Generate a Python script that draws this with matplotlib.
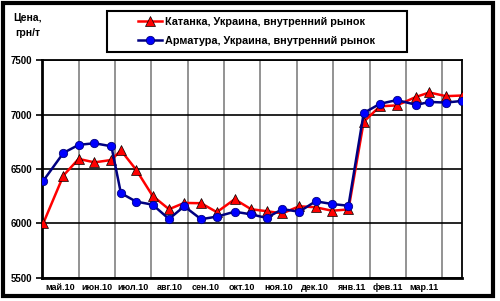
import calendar
import matplotlib
matplotlib.use('Agg')
import matplotlib.pyplot as plt
from matplotlib.patches import Rectangle

# dates of observations and prices, UAH/t
dates = ['2010-05-02', '2010-05-19', '2010-06-01', '2010-06-14', '2010-06-28',
         '2010-07-06', '2010-07-19', '2010-08-02', '2010-08-16', '2010-08-29',
         '2010-09-12', '2010-09-25', '2010-10-10', '2010-10-24', '2010-11-06',
         '2010-11-19', '2010-12-03', '2010-12-17', '2010-12-31', '2011-01-14',
         '2011-01-27', '2011-02-09', '2011-02-22', '2011-03-10', '2011-03-21',
         '2011-04-04', '2011-04-17']
katanka = [6005, 6440, 6593, 6561, 6583, 6672, 6493, 6253, 6130, 6188,
           6185, 6103, 6222, 6130, 6112, 6092, 6157, 6148, 6116, 6128,
           6935, 7077, 7085, 7165, 7204, 7170, 7176]
armatura = [6394, 6648, 6722, 6737, 6709, 6278, 6200, 6172, 6040, 6157,
            6038, 6062, 6107, 6083, 6050, 6131, 6107, 6203, 6178, 6162,
            7015, 7100, 7134, 7090, 7117, 7111, 7126]
month_labels = ['май.10', 'июн.10', 'июл.10', 'авг.10', 'сен.10', 'окт.10',
                'ноя.10', 'дек.10', 'янв.11', 'фев.11', 'мар.11']
label_katanka = 'Катанка, Украина, внутренний рынок'
label_armatura = 'Арматура, Украина, внутренний рынок'


def month_pos(s):
    # months since 1 May 2010, every month the same width
    y, m, d = map(int, s.split('-'))
    return (y - 2010) * 12 + (m - 5) + (d - 1) / calendar.monthrange(y, m)[1]


x = [month_pos(d) for d in dates]

plt.rcParams['font.family'] = ['Liberation Sans', 'DejaVu Sans']
plt.rcParams['font.weight'] = 'bold'

fig = plt.figure(figsize=(5, 3.01), dpi=100)
ax = fig.add_axes([42.3 / 500, 1 - 277.7 / 301, 419.4 / 500, 217.4 / 301])

l1, = ax.plot(x, katanka, color='#ff0000', lw=1.8, marker='^', ms=6.5,
              mfc='#ff0000', mec='black', mew=0.5, label=label_katanka, zorder=3)
l2, = ax.plot(x, armatura, color='#000080', lw=1.8, marker='o', ms=6,
              mfc='#0000ff', mec='#000080', mew=0.6, label=label_armatura, zorder=4)

ax.set_xlim(0, x[-1])
ax.set_ylim(5500, 7500)
ax.set_yticks([5500, 6000, 6500, 7000, 7500])
ax.set_xticks(range(1, 11 + 1))
ax.set_xticklabels([])
ax.set_xticks([i + 0.5 for i in range(len(month_labels))], minor=True)
ax.set_xticklabels(month_labels, minor=True)
ax.tick_params(axis='x', which='both', length=0, pad=4, labelsize=6.5)
ax.tick_params(axis='y', length=4, width=1.2, pad=3, labelsize=7, direction='out')

ax.yaxis.grid(True, color='black', lw=1.2)
ax.xaxis.grid(True, which='major', color='#808080', lw=1.2)
ax.set_axisbelow(True)
for side in ax.spines:
    ax.spines[side].set_linewidth(1.3)
ax.spines['left'].set_linewidth(2)
ax.spines['bottom'].set_linewidth(2)

fig.text(28 / 500, 1 - 18 / 301, 'Цена,', ha='center', va='center', fontsize=7.5, fontweight='bold')
fig.text(28 / 500, 1 - 33 / 301, 'грн/т', ha='center', va='center', fontsize=7.5, fontweight='bold')

# legend box drawn by hand, Excel style
fig.patches.append(Rectangle((107 / 500, 1 - 52 / 301), 300 / 500, 41 / 301,
                             transform=fig.transFigure, fill=False, ec='black', lw=1.5))
fig.legend(handles=[l1, l2], loc='center left', bbox_to_anchor=(138 / 500, 1 - 31.5 / 301),
           frameon=False, fontsize=7.8, handlelength=2.2, handletextpad=0.3,
           borderpad=0, borderaxespad=0, labelspacing=0.8)

# outer frame
fig.patches.append(Rectangle((2.5 / 500, 5 / 301), 490 / 500, 293 / 301,
                             transform=fig.transFigure, fill=False, ec='black', lw=3))

fig.savefig('out.png', dpi=100)
